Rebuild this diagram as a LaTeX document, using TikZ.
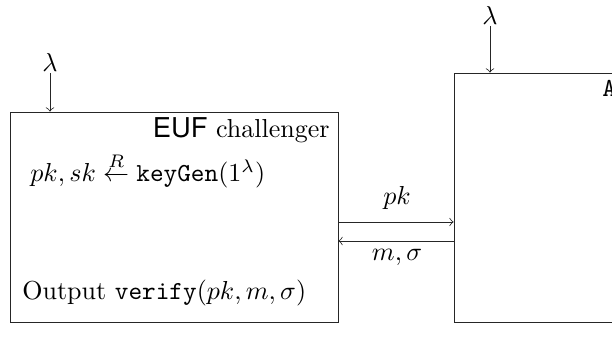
\documentclass[tikz,border=0pt]{standalone}
\usepackage{fontspec}
\newfontfamily\heros{TeX Gyre Heros}
\usetikzlibrary{fit}
\begin{document}
\begin{tikzpicture}[x=0.3846pt,y=-0.3846pt,
  every path/.style={line width=0.3pt},
  party/.style={draw=black!85, inner sep=0pt},
  lbl/.style={inner sep=0pt},
  msg/.style={->, draw=black!85}]
\useasboundingbox (0,0) rectangle (612,340);
% corners of the two parties
\coordinate (c1) at (10,112);
\coordinate (c2) at (338,322);
\coordinate (a1) at (454,73);
\coordinate (a2) at (700,322);
\node[party, fit=(c1)(c2)] (chal) {};
\node[party, fit=(a1)(a2)] (adv) {};
% texts inside the boxes
\node[lbl, anchor=base east] (chalname) at (330,138) {{\heros\fontsize{10.5}{12}\selectfont EUF} challenger};
\node[lbl, anchor=base west] (keygen) at (30,182) {$pk,sk \stackrel{R}{\leftarrow} \texttt{keyGen}(1^\lambda)$};
\node[lbl, anchor=base west] (out) at (22,300) {Output \texttt{verify}$(pk,m,\sigma)$};
\node[lbl, anchor=base west] (advname) at (602,97) {\texttt{A}};
% security parameter inputs
\node[inner sep=0.6pt, anchor=south] (lamC) at (50,73) {$\lambda$};
\node[inner sep=0.6pt, anchor=south] (lamA) at (490,26) {$\lambda$};
\draw[msg] (lamC) -- (lamC |- chal.north);
\draw[msg] (lamA) -- (lamA |- adv.north);
% messages
\coordinate (ypk) at (0,222);
\coordinate (ysig) at (0,241);
\draw[msg] (chal.east |- ypk) -- (adv.west |- ypk);
\draw[msg] (adv.west |- ysig) -- (chal.east |- ysig);
\node (pk) at (397,198) {$pk$};
\node (sig) at (397,257) {$m,\sigma$};
\end{tikzpicture}
\end{document}
